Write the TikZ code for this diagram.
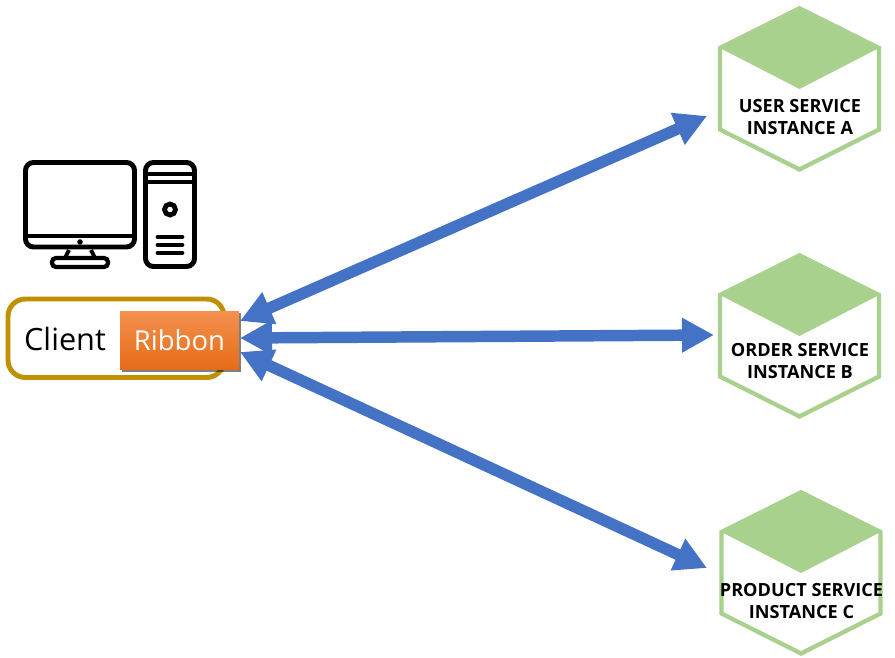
\documentclass[tikz,border=0pt]{standalone}
\usepackage{fontspec}
\setmainfont{Open Sans}
\usetikzlibrary{arrows.meta,shadows}
\definecolor{hexgreen}{HTML}{A9D18E}
\definecolor{arrowblue}{HTML}{4472C4}
\definecolor{gold}{HTML}{BF9000}
\definecolor{ribtop}{HTML}{F4904F}
\definecolor{ribbot}{HTML}{E56C17}
\tikzset{
  link/.style={arrowblue,line width=8.6pt,{Triangle[length=24pt,width=24.5pt]}-{Triangle[length=24pt,width=24.5pt]}},
  hexlabel/.style={align=center,font=\bfseries\fontsize{13.6pt}{16.5pt}\selectfont,text=black,inner sep=0pt},
  icon/.style={draw=black,line width=3.7pt,fill=white},
  iconbar/.style={draw=black,line width=3.6pt,line cap=round},
}
\newcommand{\hexservice}[2]{%
  \begin{scope}[shift={(#1,#2)}]
    \draw[hexgreen,line width=3.2pt,line join=miter,fill=white] (0,2.5)--(79.5,42)--(79.5,123.5)--(0,163.5)--(-79.5,123.5)--(-79.5,42)--cycle;
    \fill[hexgreen] (0,0)--(81.5,41)--(0,83)--(-81.5,41)--cycle;
  \end{scope}}
\begin{document}
\begin{tikzpicture}[x=0.75pt,y=-0.75pt]
\useasboundingbox (0,0) rectangle (895,657);
\fill[white] (0,0) rectangle (895,657);
% computer
\draw[icon,rounded corners=6pt] (25.5,162.5) rectangle (134.5,247);
\draw[black,line width=3.7pt] (25.5,236) -- (134.5,236);
\fill[black] (80,242) circle (2.8);
\draw[black,line width=3pt] (69,250) -- (65,258);
\draw[black,line width=3pt] (91,250) -- (95,258);
\draw[icon,rounded corners=3pt,line width=3.2pt] (52,258) rectangle (108,267);
\draw[icon,rounded corners=6pt] (145.5,162.5) rectangle (194.5,266.5);
\draw[black,line width=3pt] (145.5,174) -- (194.5,174);
\draw[black,line width=3pt] (145.5,182) -- (194.5,182);
\draw[black,line width=3.6pt] (170,209.5) circle (5.5);
\draw[iconbar] (158,237) -- (182,237);
\draw[iconbar] (158,245) -- (182,245);
\draw[iconbar] (158,253) -- (182,253);
% client
\draw[gold,line width=3.7pt,fill=white,rounded corners=13pt] (8,299) rectangle (224,377.5);
\node[inner sep=0pt,font=\fontsize{23pt}{27pt}\selectfont,text=black] (client) at (65,339) {Client};
\node[draw=none,minimum width=89.2pt,minimum height=44pt,inner sep=0pt,top color=ribtop,bottom color=ribbot,
  drop shadow={shadow xshift=1.5pt,shadow yshift=-1.5pt,opacity=.5,fill=black},
  font=\fontsize{20.6pt}{26pt}\selectfont,text=white] (ribbon) at (179.5,340.5) {Ribbon};
% services
\hexservice{799.5}{6}
\hexservice{799.5}{253}
\hexservice{801}{490}
\node[hexlabel] (usr) at (800,117) {USER SERVICE\\INSTANCE A};
\node[hexlabel] (ord) at (800,361) {ORDER SERVICE\\INSTANCE B};
\node[hexlabel] (prd) at (801.5,601) {PRODUCT SERVICE\\INSTANCE C};
% connectors
\coordinate (ca) at (240,321);
\coordinate (cb) at (240,338);
\coordinate (cc) at (240,352);
\coordinate (ea) at (707,116);
\coordinate (eb) at (714,335);
\coordinate (ec) at (707,568);
\draw[link] (ca) -- (ea);
\draw[link] (cb) -- (eb);
\draw[link] (cc) -- (ec);
\end{tikzpicture}
\end{document}
